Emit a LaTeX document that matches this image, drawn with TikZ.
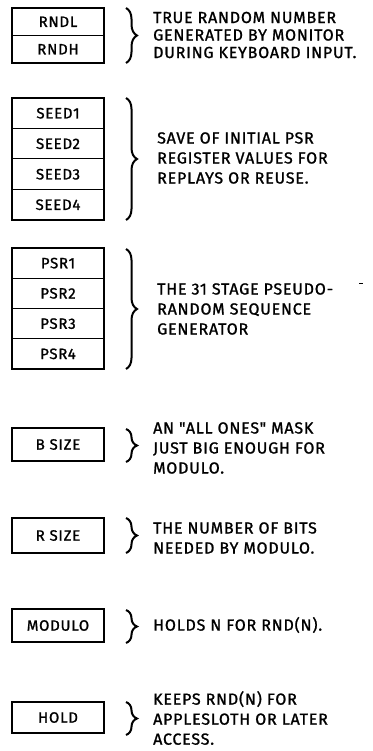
\documentclass[tikz,border=0pt]{standalone}
\usepackage{fontspec}
\setmainfont{Fira Sans}
\newfontfamily\handfont{Fira Sans}[FakeBold=1.2, LetterSpace=5]
\usetikzlibrary{decorations.pathreplacing}
\begin{document}
\begin{tikzpicture}[x=1pt,y=-1pt,
  cell/.style={draw, line width=1pt, minimum width=92pt, inner sep=0pt, outer sep=0pt, font=\handfont\fontsize{15}{17}\selectfont},
  outerbox/.style={draw, line width=2.8pt},
  brc/.style={line width=2pt, decorate, decoration={brace, amplitude=11pt}},
  desc/.style={anchor=west, align=left, inner sep=0pt, font=\handfont\fontsize{16}{20}\selectfont}]
\useasboundingbox (0,0) rectangle (372,751);
% group 1
\node[cell, minimum height=27.5pt] (rndl) at (58,21.75) {RNDL};
\node[cell, minimum height=27.5pt] (rndh) at (58,49.25) {RNDH};
\draw[outerbox] (rndl.north west) rectangle (rndh.south east);
\draw[brc] (126,8) -- (126,63);
\node[desc, font=\handfont\fontsize{16}{17.5}\selectfont] (t1) at (153,35) {TRUE RANDOM NUMBER\\GENERATED BY MONITOR\\DURING KEYBOARD INPUT.};
% group 2
\node[cell, minimum height=30.5pt] (seed1) at (58,113.25) {SEED1};
\node[cell, minimum height=30.5pt] (seed2) at (58,143.75) {SEED2};
\node[cell, minimum height=30.5pt] (seed3) at (58,174.25) {SEED3};
\node[cell, minimum height=30.5pt] (seed4) at (58,204.75) {SEED4};
\draw[outerbox] (seed1.north west) rectangle (seed4.south east);
\draw[brc] (126,98) -- (126,220);
\node[desc] (t2) at (157,158) {SAVE OF INITIAL PSR\\REGISTER VALUES FOR\\REPLAYS OR REUSE.};
% group 3
\node[cell, minimum height=30.25pt] (psr1) at (58,263.125) {PSR1};
\node[cell, minimum height=30.25pt] (psr2) at (58,293.375) {PSR2};
\node[cell, minimum height=30.25pt] (psr3) at (58,323.625) {PSR3};
\node[cell, minimum height=30.25pt] (psr4) at (58,353.875) {PSR4};
\draw[outerbox] (psr1.north west) rectangle (psr4.south east);
\draw[brc] (126,249) -- (126,369);
\node[desc] (t3) at (157,309) {THE 31 STAGE PSEUDO-\\RANDOM SEQUENCE\\GENERATOR};
\coordinate (dashL) at (359,283);
\coordinate (dashR) at (363,283);
\draw[line width=0.8pt] (dashL) -- (dashR);
% group 4
\node[cell, minimum height=33pt] (bsize) at (58,444.5) {B SIZE};
\draw[outerbox] (bsize.north west) rectangle (bsize.south east);
\draw[brc] (126,429) -- (126,462);
\node[desc] (t4) at (153,448) {AN "ALL ONES" MASK\\JUST BIG ENOUGH FOR\\MODULO.};
% group 5
\node[cell, minimum height=35pt] (rsize) at (58,535.5) {R SIZE};
\draw[outerbox] (rsize.north west) rectangle (rsize.south east);
\draw[brc] (126,518) -- (126,553);
\node[desc] (t5) at (153,538) {THE NUMBER OF BITS\\NEEDED BY MODULO.};
% group 6
\node[cell, minimum height=33pt] (modulo) at (58,625.5) {MODULO};
\draw[outerbox] (modulo.north west) rectangle (modulo.south east);
\draw[brc] (126,610) -- (126,643);
\node[desc] (t6) at (153,625) {HOLDS N FOR RND(N).};
% group 7
\node[cell, minimum height=31pt] (hold) at (58,717.5) {HOLD};
\draw[outerbox] (hold.north west) rectangle (hold.south east);
\draw[brc] (126,702) -- (126,735);
\node[desc] (t7) at (153,718) {KEEPS RND(N) FOR\\APPLESLOTH OR LATER\\ACCESS.};
\end{tikzpicture}
\end{document}
